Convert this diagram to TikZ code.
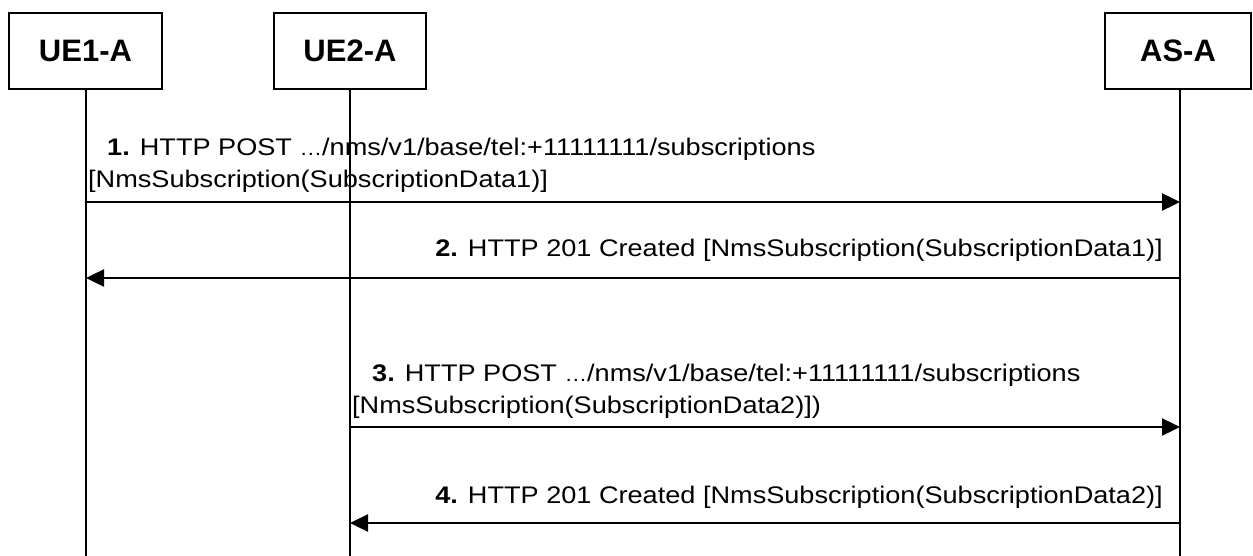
\documentclass[tikz,border=0pt]{standalone}
\usepackage{fontspec}
\setmainfont[FakeStretch=1.13]{Liberation Sans}
\newfontfamily\boxfont{Liberation Sans}
\usetikzlibrary{arrows.meta}
\begin{document}
\begin{tikzpicture}[x=1pt,y=-1pt,
  entity/.style={draw,line width=2.4pt,minimum height=76pt,inner sep=0pt,
    font=\boxfont\fontsize{31}{36}\selectfont\bfseries},
  life/.style={line width=1.4pt},
  msg/.style={line width=2.4pt,-{Triangle[length=18pt,width=17pt]}},
  lbl/.style={inner sep=0pt,font=\fontsize{24}{32}\selectfont}]
\useasboundingbox (0,0) rectangle (1253,556);
\node[entity,minimum width=153pt] (ue1) at (85.5,51) {UE1-A};
\node[entity,minimum width=152pt] (ue2) at (350,51) {UE2-A};
\node[entity,minimum width=146pt] (as) at (1178,51) {AS-A};
% lifeline end points
\coordinate (ue1b) at (86,556);
\coordinate (ue2b) at (350,556);
\coordinate (asb) at (1180,556);
\draw[life] (ue1.south -| ue1b) -- (ue1b);
\draw[life] (ue2.south -| ue2b) -- (ue2b);
\draw[life] (as.south -| asb) -- (asb);
% message points
\coordinate (m1s) at (86,202);   \coordinate (m1e) at (1180,202);
\coordinate (m2s) at (1180,278); \coordinate (m2e) at (86,278);
\coordinate (m3s) at (350,427);  \coordinate (m3e) at (1180,427);
\coordinate (m4s) at (1180,523); \coordinate (m4e) at (350,523);
\draw[msg] (m1s) -- (m1e);
\draw[msg] (m2s) -- (m2e);
\draw[msg] (m3s) -- (m3e);
\draw[msg] (m4s) -- (m4e);
% labels
\node[lbl,anchor=base west] (l1a) at (107,156) {\textbf{1.} HTTP POST {\fontsize{20}{24}\selectfont…}/nms/v1/base/tel:+11111111/subscriptions};
\node[lbl,anchor=base west] (l1b) at (88,188) {[NmsSubscription(SubscriptionData1)]};
\node[lbl,anchor=base east] (l2) at (1163,257) {\textbf{2.} HTTP 201 Created [NmsSubscription(SubscriptionData1)]};
\node[lbl,anchor=base west] (l3a) at (372,381) {\textbf{3.} HTTP POST {\fontsize{20}{24}\selectfont…}/nms/v1/base/tel:+11111111/subscriptions};
\node[lbl,anchor=base west] (l3b) at (352,413) {[NmsSubscription(SubscriptionData2)])};
\node[lbl,anchor=base east] (l4) at (1163,503) {\textbf{4.} HTTP 201 Created [NmsSubscription(SubscriptionData2)]};
\end{tikzpicture}
\end{document}
